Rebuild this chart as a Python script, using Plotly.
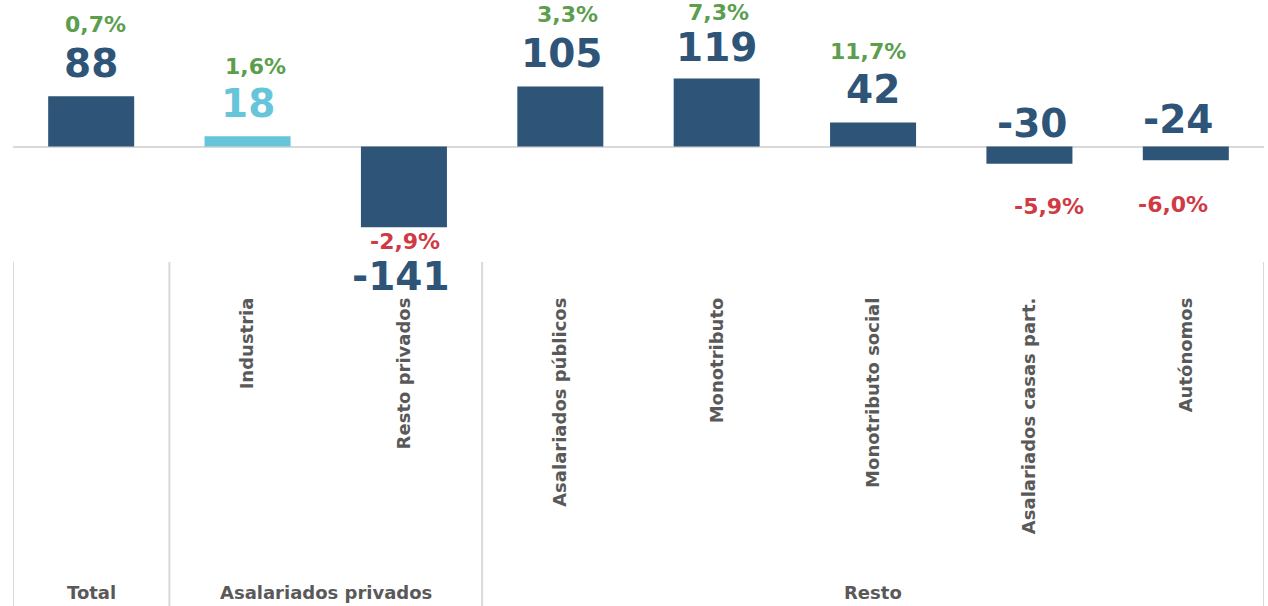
import plotly.graph_objects as go

# ---- data ----
categories = ["Total", "Industria", "Resto privados", "Asalariados públicos",
              "Monotributo", "Monotributo social", "Asalariados casas part.", "Autónomos"]
tick_labels = ["", "Industria", "Resto privados", "Asalariados públicos",
               "Monotributo", "Monotributo social", "Asalariados casas part.", "Autónomos"]
values = [88, 18, -141, 105, 119, 42, -30, -24]
pct_labels = ["0,7%", "1,6%", "-2,9%", "3,3%", "7,3%", "11,7%", "-5,9%", "-6,0%"]
pct_values = [0.7, 1.6, -2.9, 3.3, 7.3, 11.7, -5.9, -6.0]
groups = ["Total", "Asalariados privados", "Resto"]
group_sizes = [1, 2, 5]

# ---- style ----
DARK = "#2E5478"
LIGHT = "#67C5D9"
GREEN = "#5B9E4D"
RED = "#CF3A44"
GREY_TXT = "#595959"
GREY_LINE = "#D9D9D9"
FONT = "DejaVu Sans"
bar_colors = [DARK, LIGHT, DARK, DARK, DARK, DARK, DARK, DARK]

# label pixel offsets (style only)
val_dy = [33, 33, -49, 33, 31, 33, 40, 41]
val_dx = [0, 0, -3, 1, 0, 0, 3, -8]
pct_dy = [72, 70, -14, 72, 66, 71, -43, -44]
pct_dx = [4, 8, 1, 7, 2, -5, 20, -13]

W, H = 1268, 606
M_L, M_R, M_T, M_B = 13, 4, 8, 313
ZERO_PX = 146.5
SCALE = 0.572  # px per unit
plot_top = M_T
plot_bot = H - M_B
y_max = (ZERO_PX - plot_top) / SCALE
y_min = -(plot_bot - ZERO_PX) / SCALE

x = list(range(len(categories)))

fig = go.Figure()
fig.add_trace(go.Bar(
    x=x, y=values, marker=dict(color=bar_colors, line=dict(width=0)),
    width=0.55, hoverinfo="skip", showlegend=False,
))

annotations = []
for i, v in enumerate(values):
    annotations.append(dict(
        x=i, y=v, xref="x", yref="y", text="<b>%d</b>" % v, showarrow=False,
        yshift=val_dy[i], xshift=val_dx[i], yanchor="middle", xanchor="center",
        font=dict(family=FONT, size=39, color=bar_colors[i], weight="bold"),
    ))
    annotations.append(dict(
        x=i, y=v, xref="x", yref="y", text="<b>%s</b>" % pct_labels[i], showarrow=False,
        yshift=pct_dy[i], xshift=pct_dx[i], yanchor="middle", xanchor="center",
        font=dict(family=FONT, size=22, color=GREEN if pct_values[i] >= 0 else RED,
                  weight="bold"),
    ))

# group labels and separators
plot_h = plot_bot - plot_top
sep_top = (plot_bot - 262) / plot_h
sep_bot = (plot_bot - H) / plot_h
grp_y = (plot_bot - 592) / plot_h
shapes = []
start = -0.5
shapes.append(dict(type="line", xref="x", yref="paper", x0=start, x1=start,
                   y0=sep_top, y1=sep_bot, line=dict(color=GREY_LINE, width=2)))
for g, n in zip(groups, group_sizes):
    end = start + n
    shapes.append(dict(type="line", xref="x", yref="paper", x0=end, x1=end,
                       y0=sep_top, y1=sep_bot, line=dict(color=GREY_LINE, width=2)))
    annotations.append(dict(
        x=(start + end) / 2, y=grp_y, xref="x", yref="paper", text="<b>%s</b>" % g,
        showarrow=False, yanchor="middle", xanchor="center",
        font=dict(family=FONT, size=18, color=GREY_TXT, weight="bold"),
    ))
    start = end

fig.update_layout(
    width=W, height=H,
    margin=dict(l=M_L, r=M_R, t=M_T, b=M_B),
    paper_bgcolor="white", plot_bgcolor="white",
    bargap=0.45,
    xaxis=dict(
        range=[-0.5, len(categories) - 0.5], tickmode="array", tickvals=x,
        ticktext=["<b>%s</b>" % t if t else "" for t in tick_labels],
        tickangle=-90, showgrid=False, zeroline=False,
        showline=False, ticks="",
        tickfont=dict(family=FONT, size=18, color=GREY_TXT, weight="bold"),
    ),
    yaxis=dict(
        range=[y_min, y_max], showgrid=False, showticklabels=False,
        zeroline=True, zerolinecolor=GREY_LINE, zerolinewidth=2, showline=False,
        ticks="",
    ),
    annotations=annotations,
    shapes=shapes,
)

fig.write_html("out.html")
